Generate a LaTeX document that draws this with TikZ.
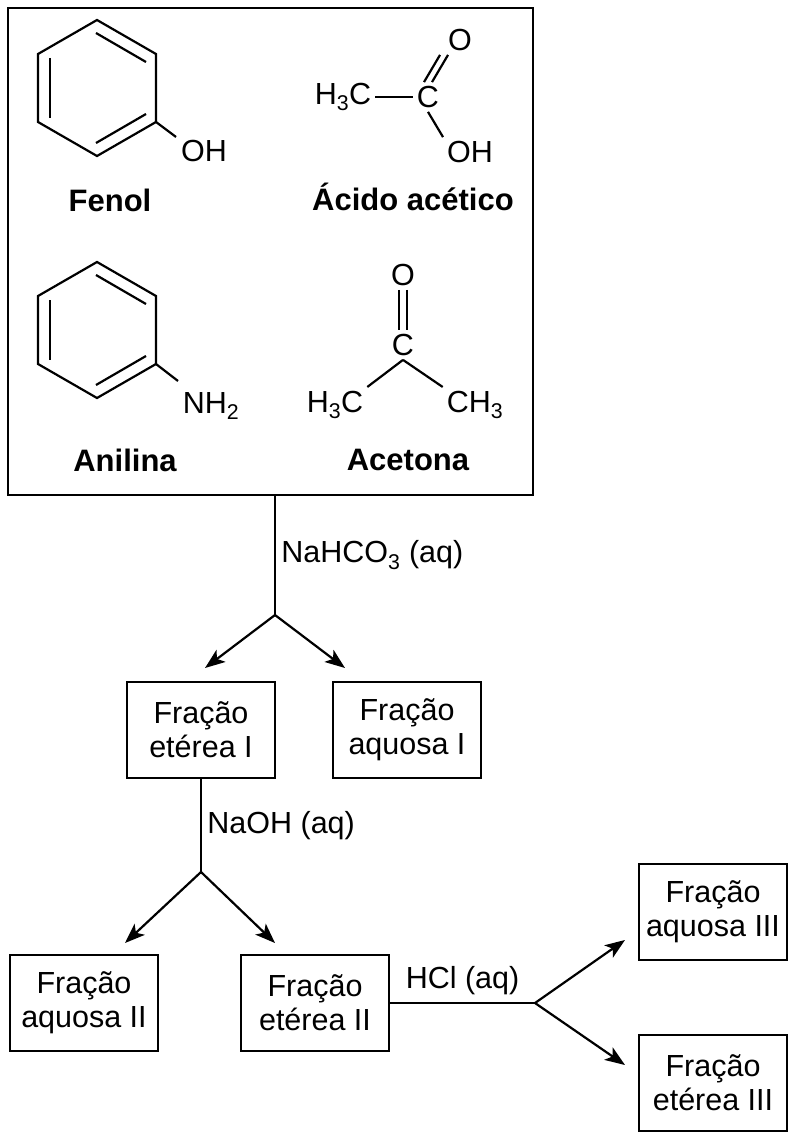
\documentclass[tikz,border=0pt]{standalone}
\usepackage{fontspec}
\setmainfont{Liberation Sans}
\usetikzlibrary{arrows.meta,positioning,calc}
\begin{document}
\begin{tikzpicture}[x=1pt,y=-1pt,line width=2.2pt,
  every node/.style={font=\fontsize{30.5}{34}\selectfont},
  box/.style={draw,align=center,inner sep=5pt,minimum width=148pt,minimum height=96pt},
  lbl/.style={font=\fontsize{31}{34}\selectfont\bfseries},
  atom/.style={inner sep=3pt},
  flow/.style={-{Stealth[length=20pt,width=15pt,inset=5pt]}}]
\useasboundingbox (0,0) rectangle (800,1139);
\draw (8,8) rectangle (533,495);
% rings
\foreach \cy in {88,330}{
  \draw (97,\cy-68) -- (156,\cy-34) -- (156,\cy+34) -- (97,\cy+68) -- (38,\cy+34) -- (38,\cy-34) -- cycle;
  \draw (50,\cy-30) -- (50,\cy+30);
  \draw (96,\cy-55) -- (146,\cy-26);
  \draw (96,\cy+55) -- (146,\cy+26);
}
\node[atom] (oh1) at (204,151) {OH};
\draw (156,122) -- (176,137);
\node[lbl] (fenol) at (110,200) {Fenol};
\node[atom] (nh2) at (211,406) {NH\textsubscript{2}};
\draw (156,364) -- (178,381);
\node[lbl] (anil) at (125,460) {Anilina};
% acetic acid
\node[atom] (h3c1) at (343,97) {H\textsubscript{3}C};
\node[atom] (c1) at (428,97) {C};
\node[atom] (o1) at (460,40) {O};
\node[atom] (oh2) at (470,152) {OH};
\draw (h3c1) -- (c1);
\draw ([xshift=-4pt]c1.north) -- ([xshift=-4pt]o1.south west);
\draw ([xshift=4pt]c1.north) -- ([xshift=4pt]o1.south west);
\draw (c1.south) -- (oh2.north west);
\node[lbl] (acido) at (413,197) {Ácido acético};
% acetone
\node[atom] (o2) at (403,275) {O};
\node[atom] (c2) at (403,345) {C};
\node[atom] (h3c2) at (335,405) {H\textsubscript{3}C};
\node[atom] (ch3) at (475,405) {CH\textsubscript{3}};
\draw ([xshift=-4pt]o2.south) -- ([xshift=-4pt]c2.north);
\draw ([xshift=4pt]o2.south) -- ([xshift=4pt]c2.north);
\draw (c2.south) -- (h3c2.north east);
\draw (c2.south) -- (ch3.north west);
\node[lbl] (acet) at (408,460) {Acetona};
% flow
\coordinate (top) at (275,495);
\coordinate (s1) at (275,615);
\draw (top) -- node[right,xshift=2pt] {NaHCO\textsubscript{3} (aq)} (s1);
\node[box] (e1) at (201,730) {Fração\\etérea I};
\node[box] (a1) at (407,730) {Fração\\aquosa I};
\draw[flow] (s1) -- (205,668);
\draw[flow] (s1) -- (345,668);
\coordinate (s2) at (201,872);
\draw (e1) -- node[right,xshift=2pt] {NaOH (aq)} (s2);
\node[box] (a2) at (84,1003) {Fração\\aquosa II};
\node[box] (e2) at (315,1003) {Fração\\etérea II};
\draw[flow] (s2) -- (125,943);
\draw[flow] (s2) -- (275,943);
\coordinate (s3) at (535,1003);
\draw (e2) -- node[above,yshift=4pt] {HCl (aq)} (s3);
\node[box] (a3) at (713,912) {Fração\\aquosa III};
\node[box] (e3) at (713,1083) {Fração\\etérea III};
\draw[flow] (s3) -- (625,940);
\draw[flow] (s3) -- (625,1065);
\end{tikzpicture}
\end{document}
